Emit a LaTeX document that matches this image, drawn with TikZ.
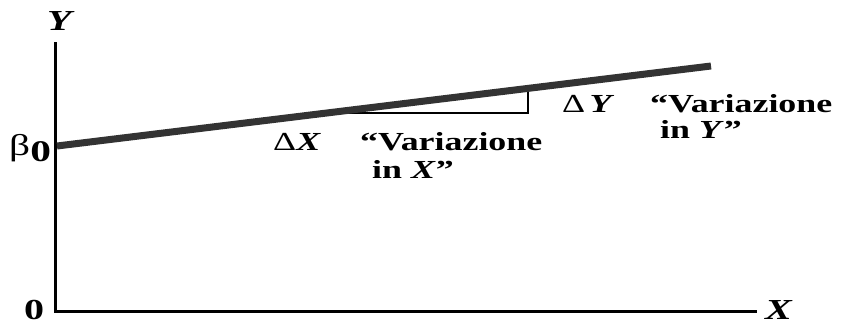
\documentclass[tikz,border=0pt]{standalone}
\usepackage{fontspec}
\setmainfont{Liberation Serif}[FakeStretch=1.38]
\begin{document}
\begin{tikzpicture}[x=1pt,y=-1pt,
  lbl/.style={inner sep=0pt, anchor=base west, font=\fontsize{26}{28}\selectfont\bfseries},
  axlbl/.style={lbl, font=\fontsize{29}{30}\selectfont\bfseries},
  axis/.style={line width=3pt, line join=miter},
  regline/.style={line width=7pt, color=black!80},
  tri/.style={line width=1.3pt}]
\useasboundingbox (0,0) rectangle (842,324);
\coordinate (Ytop) at (55,42);
\coordinate (O) at (55,311);
\coordinate (Xend) at (757,311);
\coordinate (B0) at (57,146);
\coordinate (Lend) at (711,66);
\coordinate (T1) at (326,113);
\coordinate (T2) at (528,113);
\coordinate (T3) at (528,88);
\draw[axis] (Ytop) -- (O) -- (Xend);
\draw[tri] (T1) -- (T2) -- (T3);
\draw[regline] (B0) -- (Lend);
\node[axlbl, anchor=center] (ylab) at (61,21) {\textit{Y}};
\node[axlbl] (xlab) at (765,319) {\textit{X}};
\node[axlbl] (zero) at (24,319) {0};
\node[lbl] (b0) at (9,155) {{\mdseries\fontsize{30}{30}\selectfont β}\raisebox{-6pt}{\fontsize{30}{32}\selectfont 0}};
\node[lbl] (dx) at (273,150) {{\mdseries Δ}\textit{X}};
\node[lbl] (vx1) at (360,150) {“Variazione};
\node[lbl] (vx2) at (372,178) {in \textit{X}”};
\node[lbl] (dy) at (562,112) {{\mdseries Δ}\,\textit{Y}};
\node[lbl] (vy1) at (650,112) {“Variazione};
\node[lbl] (vy2) at (660,138) {in \textit{Y}”};
\end{tikzpicture}
\end{document}
